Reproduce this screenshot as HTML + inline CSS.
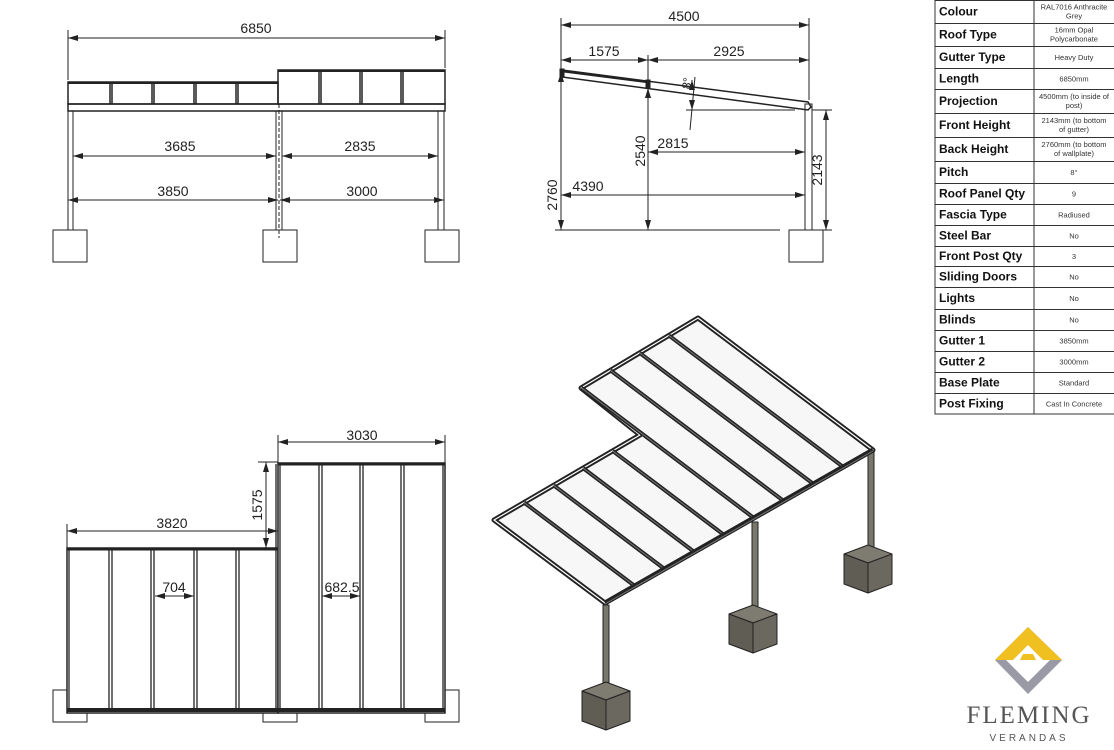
<!DOCTYPE html>
<html><head><meta charset="utf-8"><style>
body{margin:0;background:#fff;width:1114px;height:750px;overflow:hidden;font-family:"Liberation Sans",sans-serif}
svg{position:absolute;left:0;top:0}
</style></head><body>
<svg width="1114" height="750" viewBox="0 0 1114 750" xmlns="http://www.w3.org/2000/svg" font-family="Liberation Sans, sans-serif">
<defs>
<marker id="a" viewBox="0 0 10 6" refX="10" refY="3" markerWidth="10" markerHeight="6" orient="auto-start-reverse" markerUnits="userSpaceOnUse"><path d="M0,0L10,3L0,6z" fill="#222"/></marker>
</defs>
<g stroke="#222" fill="none" stroke-width="1">
<line x1="68" y1="30" x2="68" y2="80"/><line x1="445" y1="30" x2="445" y2="68"/>
<line x1="68" y1="38" x2="445" y2="38" marker-start="url(#a)" marker-end="url(#a)"/>
<rect x="68" y="82" width="210" height="22" stroke-width="1.5"/>
<line x1="68" y1="83" x2="278" y2="83" stroke-width="2"/>
<rect x="278" y="70" width="167" height="34" stroke-width="1.5"/>
<line x1="278" y1="71" x2="445" y2="71" stroke-width="2"/>
<g stroke-width="1.5">
<line x1="110" y1="83" x2="110" y2="104"/><line x1="112" y1="83" x2="112" y2="104"/>
<line x1="152" y1="83" x2="152" y2="104"/><line x1="154" y1="83" x2="154" y2="104"/>
<line x1="194" y1="83" x2="194" y2="104"/><line x1="196" y1="83" x2="196" y2="104"/>
<line x1="236" y1="83" x2="236" y2="104"/><line x1="238" y1="83" x2="238" y2="104"/>
<line x1="319" y1="71" x2="319" y2="104"/><line x1="321" y1="71" x2="321" y2="104"/>
<line x1="360" y1="71" x2="360" y2="104"/><line x1="362" y1="71" x2="362" y2="104"/>
<line x1="401" y1="71" x2="401" y2="104"/><line x1="403" y1="71" x2="403" y2="104"/>
</g>
<rect x="68" y="104" width="377" height="7" stroke-width="1.5"/>
<rect x="68" y="111" width="5" height="119"/><rect x="276" y="111" width="6" height="119"/><rect x="438" y="111" width="6" height="119"/>
<line x1="279" y1="104" x2="279" y2="238" stroke-dasharray="4,2"/>
<rect x="53" y="230" width="34" height="32"/><rect x="263" y="230" width="34" height="32"/><rect x="425" y="230" width="34" height="32"/>
<line x1="73" y1="156" x2="276" y2="156" marker-start="url(#a)" marker-end="url(#a)"/>
<line x1="282" y1="156" x2="438" y2="156" marker-start="url(#a)" marker-end="url(#a)"/>
<line x1="68" y1="200" x2="278" y2="200" marker-start="url(#a)" marker-end="url(#a)"/>
<line x1="280" y1="200" x2="444" y2="200" marker-start="url(#a)" marker-end="url(#a)"/>

<line x1="561" y1="18" x2="561" y2="72"/><line x1="809" y1="18" x2="809" y2="100"/>
<line x1="561" y1="25" x2="809" y2="25" marker-start="url(#a)" marker-end="url(#a)"/>
<line x1="561" y1="60" x2="648" y2="60" marker-start="url(#a)" marker-end="url(#a)"/>
<line x1="648" y1="60" x2="809" y2="60" marker-start="url(#a)" marker-end="url(#a)"/>
<line x1="648" y1="55" x2="648" y2="230"/>
<path d="M562,70 L808,102 L811,107 L808,110 L562,77 Z" stroke-width="1.5"/>
<line x1="562" y1="71" x2="648" y2="82" stroke-width="2.5"/>
<rect x="560" y="69" width="4" height="8" fill="#222"/>
<rect x="646" y="80" width="4" height="8" fill="#222"/>
<rect x="805" y="104" width="7" height="126"/>
<line x1="686" y1="110" x2="795" y2="110"/>
<line x1="695" y1="77" x2="690" y2="130"/>
<line x1="692" y1="90" x2="692" y2="80" marker-end="url(#a)"/>
<line x1="692" y1="105" x2="692" y2="110" marker-end="url(#a)"/>
<line x1="812" y1="110" x2="832" y2="110"/>
<line x1="826" y1="110" x2="826" y2="230" marker-start="url(#a)" marker-end="url(#a)"/>
<line x1="561" y1="72" x2="561" y2="230" marker-start="url(#a)" marker-end="url(#a)"/>
<line x1="648" y1="88" x2="648" y2="230" marker-start="url(#a)" marker-end="url(#a)"/>
<line x1="648" y1="152" x2="805" y2="152" marker-start="url(#a)" marker-end="url(#a)"/>
<line x1="561" y1="195" x2="805" y2="195" marker-start="url(#a)" marker-end="url(#a)"/>
<line x1="555" y1="230" x2="780" y2="230"/><line x1="800" y1="230" x2="832" y2="230"/>
<rect x="789" y="230" width="34" height="32"/>

<line x1="278" y1="435" x2="278" y2="463"/><line x1="445" y1="435" x2="445" y2="463"/>
<line x1="278" y1="442" x2="445" y2="442" marker-start="url(#a)" marker-end="url(#a)"/>
<line x1="67" y1="524" x2="67" y2="548"/>
<line x1="67" y1="531" x2="278" y2="531" marker-start="url(#a)" marker-end="url(#a)"/>
<line x1="258" y1="462" x2="278" y2="462"/>
<line x1="266" y1="462" x2="266" y2="548" marker-start="url(#a)" marker-end="url(#a)"/>
<rect x="53" y="690" width="34" height="32"/><rect x="263" y="704" width="34" height="18"/><rect x="425" y="690" width="34" height="32"/>
<rect x="67" y="548" width="211" height="165" fill="#fff" stroke-width="1.5"/>
<rect x="278" y="463" width="167" height="250" fill="#fff" stroke-width="1.5"/>
<line x1="67" y1="549" x2="278" y2="549" stroke-width="3"/>
<line x1="278" y1="464" x2="445" y2="464" stroke-width="3"/>
<line x1="67" y1="710" x2="445" y2="710" stroke-width="4"/>
<g stroke-width="1.3">
<line x1="69" y1="549" x2="69" y2="710"/><line x1="109" y1="549" x2="109" y2="710"/><line x1="112" y1="549" x2="112" y2="710"/>
<line x1="151" y1="549" x2="151" y2="710"/><line x1="154" y1="549" x2="154" y2="710"/>
<line x1="194" y1="549" x2="194" y2="710"/><line x1="197" y1="549" x2="197" y2="710"/>
<line x1="236" y1="549" x2="236" y2="710"/><line x1="239" y1="549" x2="239" y2="710"/>
<line x1="276" y1="464" x2="276" y2="710"/><line x1="280" y1="464" x2="280" y2="710"/>
<line x1="319" y1="464" x2="319" y2="710"/><line x1="322" y1="464" x2="322" y2="710"/>
<line x1="360" y1="464" x2="360" y2="710"/><line x1="363" y1="464" x2="363" y2="710"/>
<line x1="401" y1="464" x2="401" y2="710"/><line x1="404" y1="464" x2="404" y2="710"/>
<line x1="443" y1="464" x2="443" y2="710"/>
</g>
<line x1="155" y1="596" x2="194" y2="596" marker-start="url(#a)" marker-end="url(#a)"/>
<line x1="322" y1="596" x2="360" y2="596" marker-start="url(#a)" marker-end="url(#a)"/>
</g>

<g fill="#222" font-size="14" text-anchor="middle">
<text x="256" y="33">6850</text>
<text x="180" y="151">3685</text><text x="360" y="151">2835</text>
<text x="173" y="196">3850</text><text x="362" y="196">3000</text>
<text x="684" y="21">4500</text><text x="604" y="56">1575</text><text x="729" y="56">2925</text>
<text x="673" y="148">2815</text><text x="588" y="191">4390</text>
<text transform="translate(557,195) rotate(-90)">2760</text>
<text transform="translate(645,151) rotate(-90)">2540</text>
<text transform="translate(822,170) rotate(-90)">2143</text>
<text transform="translate(691,84) rotate(-80)" font-size="12">8°</text>
<text x="362" y="440">3030</text><text x="172" y="528">3820</text>
<text transform="translate(262,505) rotate(-90)">1575</text>
<text x="174" y="592">704</text><text x="342" y="592">682.5</text>
</g>

<g id="iso" stroke="#222" stroke-linejoin="round"></g>
<g id="tbl"></g>

<path d="M1028,627 L1062,660 L1028,694 L995,660 Z" fill="#9a9aa6"/>
<path d="M1028,627 L1062,660 L995,660 Z" fill="#f0c020"/>
<path d="M1028,682 L1050,660 L1006,660 Z" fill="#fff"/>
<path d="M1013,660 L1028,645 L1043,660 L1036,660 L1033,654 L1023,654 L1020,660 Z" fill="#fff"/>
<text x="1029" y="723" font-family="Liberation Serif, serif" font-size="25" fill="#555" text-anchor="middle" letter-spacing="2">FLEMING</text>
<text x="1029" y="741" font-size="10" fill="#555" text-anchor="middle" letter-spacing="3">VERANDAS</text>
</svg>
<script>
(function(){
var NS="http://www.w3.org/2000/svg";
function el(p,t,a){var e=document.createElementNS(NS,t);for(var k in a)e.setAttribute(k,a[k]);p.appendChild(e);return e;}
var iso=document.getElementById('iso');
function block(cx,top){
 var w=24,h=9,d=30;
 el(iso,'path',{d:'M'+(cx-w)+','+(top+h)+' L'+cx+','+top+' L'+(cx+w)+','+(top+h)+' L'+cx+','+(top+2*h)+' Z',fill:'#7e7b70','stroke-width':1});
 el(iso,'path',{d:'M'+(cx-w)+','+(top+h)+' L'+cx+','+(top+2*h)+' L'+cx+','+(top+2*h+d)+' L'+(cx-w)+','+(top+h+d)+' Z',fill:'#605d55','stroke-width':1});
 el(iso,'path',{d:'M'+(cx+w)+','+(top+h)+' L'+cx+','+(top+2*h)+' L'+cx+','+(top+2*h+d)+' L'+(cx+w)+','+(top+h+d)+' Z',fill:'#6b685f','stroke-width':1});
}
function post(x,y1,y2){el(iso,'rect',{x:x-3,y:y1,width:6,height:y2-y1,fill:'#7a776d','stroke-width':1});}
post(871,452,552);post(755,522,612);post(606,605,688);
var F1=[605,603],F2=[873,450],B=[698,318],N1=[581,388],N2=[640,435],L=[494,520];
var pts=[L,N2,N1,B,F2,F1];
el(iso,'path',{d:'M'+pts.map(function(p){return p.join(',')}).join(' L')+' Z',fill:'#f7f7f7','stroke-width':5});
el(iso,'path',{d:'M'+pts.map(function(p){return p.join(',')}).join(' L')+' Z',fill:'none',stroke:'#fff','stroke-width':1.2});
var dx=F2[0]-B[0],dy=F2[1]-B[1];
function inter(p,a,b){
 var ux=-dx,uy=-dy,vx=b[0]-a[0],vy=b[1]-a[1];
 var den=ux*vy-uy*vx;var t=((a[0]-p[0])*vy-(a[1]-p[1])*vx)/den;
 return [p[0]+ux*t,p[1]+uy*t];}
for(var i=1;i<9;i++){
 var p=[F1[0]+(F2[0]-F1[0])*i/9,F1[1]+(F2[1]-F1[1])*i/9];
 var q=i<5?inter(p,L,N2):inter(p,N1,B);
 el(iso,'line',{x1:p[0],y1:p[1],x2:q[0],y2:q[1],'stroke-width':4});
 el(iso,'line',{x1:p[0],y1:p[1],x2:q[0],y2:q[1],stroke:'#777','stroke-width':1});
}
el(iso,'line',{x1:F1[0],y1:F1[1],x2:F2[0],y2:F2[1],'stroke-width':5});
el(iso,'line',{x1:F1[0],y1:F1[1]+1,x2:F2[0],y2:F2[1]+1,stroke:'#777','stroke-width':1});
block(868,545);block(753,605);block(606,682);
var t=document.getElementById('tbl');
var rows=[["Colour","RAL7016 Anthracite|Grey"],["Roof Type","16mm Opal|Polycarbonate"],["Gutter Type","Heavy Duty"],["Length","6850mm"],["Projection","4500mm (to inside of|post)"],["Front Height","2143mm (to bottom|of gutter)"],["Back Height","2760mm (to bottom|of wallplate)"],["Pitch","8°"],["Roof Panel Qty","9"],["Fascia Type","Radiused"],["Steel Bar","No"],["Front Post Qty","3"],["Sliding Doors","No"],["Lights","No"],["Blinds","No"],["Gutter 1","3850mm"],["Gutter 2","3000mm"],["Base Plate","Standard"],["Post Fixing","Cast In Concrete"]];
var b=[0,23,46,68,89,113,137,161,183,204,225,246,266,287,309,330,351,372,393,414];
el(t,'rect',{x:935,y:0.5,width:180,height:413.5,fill:'none',stroke:'#333','stroke-width':1});
el(t,'line',{x1:1034,y1:0,x2:1034,y2:414,stroke:'#333'});
for(var r=0;r<rows.length;r++){
 if(r>0)el(t,'line',{x1:935,y1:b[r]+.5,x2:1114,y2:b[r]+.5,stroke:'#333'});
 var cy=(b[r]+b[r+1])/2;
 var tx=el(t,'text',{x:939,y:cy+4,'font-size':12,'font-weight':'bold',fill:'#111'});tx.textContent=rows[r][0];
 var parts=rows[r][1].split('|');
 for(var j=0;j<parts.length;j++){
  var yy=parts.length==1?cy+3:cy-2+j*9;
  var v=el(t,'text',{x:1074,y:yy,'font-size':7.5,fill:'#333','text-anchor':'middle'});v.textContent=parts[j];}
}
})();
</script>
</body></html>
